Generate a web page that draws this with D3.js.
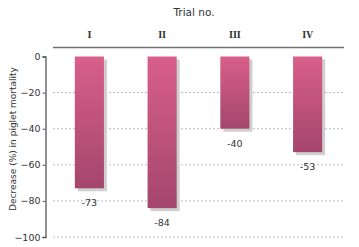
<!DOCTYPE html>
<html><head><meta charset="utf-8">
<script src="https://cdn.jsdelivr.net/npm/d3@7"></script>
<style>body{margin:0;background:#fff}svg{display:block}</style>
</head><body>
<script>
const categories = ["I", "II", "III", "IV"];
const values = [-73, -84, -40, -53];
const yTicks = [0, -20, -40, -60, -80, -100];
const title = "Trial no.";
const yTitle = "Decrease (%) in piglet mortality";

const W = 359, H = 247;
const svg = d3.select("body").append("svg").attr("width", W).attr("height", H);
const defs = svg.append("defs");
const grad = defs.append("linearGradient").attr("id", "bg").attr("x1", 0).attr("y1", 0).attr("x2", 0).attr("y2", 1);
grad.append("stop").attr("offset", "0%").attr("stop-color", "#d85f8a");
grad.append("stop").attr("offset", "100%").attr("stop-color", "#a4466c");

const x = d3.scaleBand().domain(categories).range([53, 344]).paddingInner(0.6).paddingOuter(0.3);
const y = d3.scaleLinear().domain([0, -100]).range([56.5, 237]);

// gridlines
svg.append("g").selectAll("line").data(yTicks.filter(d => d !== 0)).join("line")
  .attr("x1", 53).attr("x2", 344).attr("y1", d => y(d)).attr("y2", d => y(d))
  .attr("stroke", "#bdbdbd").attr("stroke-width", 1).attr("stroke-dasharray", "2,2");

// top line
svg.append("line").attr("x1", 53).attr("x2", 344).attr("y1", 47.5).attr("y2", 47.5)
  .attr("stroke", "#707070").attr("stroke-width", 1.5);

// y axis
const ax = svg.append("g").attr("transform", "translate(45.5,0)")
  .call(d3.axisLeft(y).tickValues(yTicks).tickSize(3).tickPadding(2).tickFormat(d3.format("d")));
ax.select(".domain").attr("stroke", "#555").attr("stroke-width", 1.3);
ax.selectAll(".tick line").attr("stroke", "#555");
ax.selectAll("text").attr("font-family", "DejaVu Sans").attr("font-size", 9.5).attr("fill", "#333");

// shadows
svg.append("g").selectAll("rect").data(values).join("rect")
  .attr("x", (d, i) => x(categories[i]) + 3)
  .attr("y", y(0) + 3)
  .attr("width", x.bandwidth())
  .attr("height", d => y(d) - y(0))
  .attr("fill", "#cfcfcf");

// bars
svg.append("g").selectAll("rect").data(values).join("rect")
  .attr("x", (d, i) => x(categories[i]))
  .attr("y", y(0))
  .attr("width", x.bandwidth())
  .attr("height", d => y(d) - y(0))
  .attr("fill", "url(#bg)");

// value labels
svg.append("g").selectAll("text").data(values).join("text")
  .attr("x", (d, i) => x(categories[i]) + x.bandwidth() / 2)
  .attr("y", d => y(d) + 18)
  .attr("text-anchor", "middle")
  .attr("font-family", "DejaVu Sans").attr("font-size", 9.5).attr("fill", "#333")
  .text(d => d);

// category labels
svg.append("g").selectAll("text").data(categories).join("text")
  .attr("x", d => x(d) + x.bandwidth() / 2)
  .attr("y", 38)
  .attr("text-anchor", "middle")
  .attr("font-family", "DejaVu Serif").attr("font-weight", "bold").attr("font-size", 8.5).attr("fill", "#333")
  .text(d => d);

// title
svg.append("text").attr("x", 194).attr("y", 16).attr("text-anchor", "middle")
  .attr("font-family", "DejaVu Sans").attr("font-size", 10.5).attr("fill", "#333").text(title);

// y title
svg.append("text").attr("transform", "translate(16,139) rotate(-90)").attr("text-anchor", "middle")
  .attr("font-family", "DejaVu Sans").attr("font-size", 9).attr("fill", "#333").text(yTitle);
</script>
</body></html>
